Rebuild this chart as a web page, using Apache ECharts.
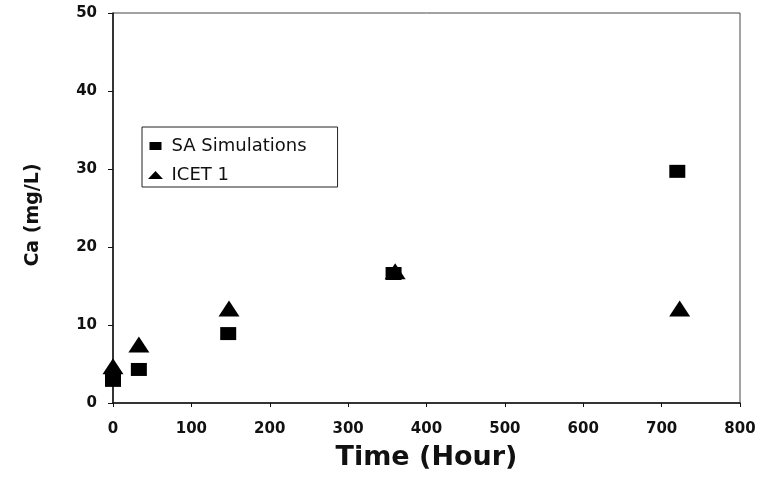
<!DOCTYPE html>
<html>
<head>
<meta charset="utf-8">
<title>Ca vs Time</title>
<script src="https://cdn.jsdelivr.net/npm/echarts@6/dist/echarts.min.js"></script>
<style>
  html, body { margin: 0; padding: 0; background: #fff; }
  #chart { width: 765px; height: 481px; }
</style>
</head>
<body>
<div id="chart"></div>
<script>
// data
var saHours = [0, 33, 147, 358, 720];
var saCa = [2.9, 4.3, 8.9, 16.6, 29.7];
var icetHours = [0, 33, 148, 360, 723];
var icetCa = [4.7, 7.5, 12.1, 16.9, 12.1];

function pairs(xs, ys) {
  var out = [];
  for (var i = 0; i < xs.length; i++) out.push([xs[i], ys[i]]);
  return out;
}

var chart = echarts.init(document.getElementById('chart'));
var option = {
  backgroundColor: '#fff',
  animation: false,
  grid: {
    left: 113, right: 25, top: 13, bottom: 78,
    outerBoundsMode: 'none', containLabel: false,
    show: true, borderColor: '#444', borderWidth: 1
  },
  legend: {
    orient: 'vertical',
    left: 142, top: 127,
    padding: [9, 31, 2, 6],
    itemGap: 9,
    itemWidth: 22, itemHeight: 8,
    symbolKeepAspect: true,
    borderColor: '#222', borderWidth: 1,
    textStyle: { fontFamily: 'DejaVu Sans', fontSize: 18, lineHeight: 20, color: '#111' },
    data: [
      { name: 'SA Simulations', icon: 'path://M0,0h12v8h-12z' },
      { name: 'ICET 1', icon: 'path://M7.5,0L15,8H0z' }
    ]
  },
  xAxis: {
    type: 'value', min: 0, max: 800, interval: 100,
    name: 'Time (Hour)', nameLocation: 'middle', nameGap: 41,
    nameTextStyle: { fontFamily: 'DejaVu Sans', fontWeight: 'bold', fontSize: 27, color: '#111' },
    axisLine: { show: true, lineStyle: { color: '#111', width: 1.5 } },
    axisTick: { show: true, length: 4, lineStyle: { color: '#111' } },
    axisLabel: { margin: 19, fontFamily: 'DejaVu Sans', fontWeight: 'bold', fontSize: 15, color: '#111' },
    splitLine: { show: false }
  },
  yAxis: {
    type: 'value', min: 0, max: 50, interval: 10,
    name: 'Ca (mg/L)', nameLocation: 'middle', nameGap: 70,
    nameTextStyle: { fontFamily: 'DejaVu Sans', fontWeight: 'bold', fontSize: 19, color: '#111', padding: [0, 14, 0, 0] },
    axisLine: { show: true, lineStyle: { color: '#111', width: 1.5 } },
    axisTick: { show: true, length: 5, lineStyle: { color: '#111' } },
    axisLabel: { margin: 16, fontFamily: 'DejaVu Sans', fontWeight: 'bold', fontSize: 15, color: '#111' },
    splitLine: { show: false }
  },
  series: [
    {
      name: 'SA Simulations', type: 'scatter',
      symbol: 'rect', symbolSize: [16, 13],
      itemStyle: { color: '#000', opacity: 1 },
      data: pairs(saHours, saCa)
    },
    {
      name: 'ICET 1', type: 'scatter',
      symbol: 'triangle', symbolSize: [21, 16],
      itemStyle: { color: '#000', opacity: 1 },
      data: pairs(icetHours, icetCa)
    }
  ]
};
chart.setOption(option);
</script>
</body>
</html>
